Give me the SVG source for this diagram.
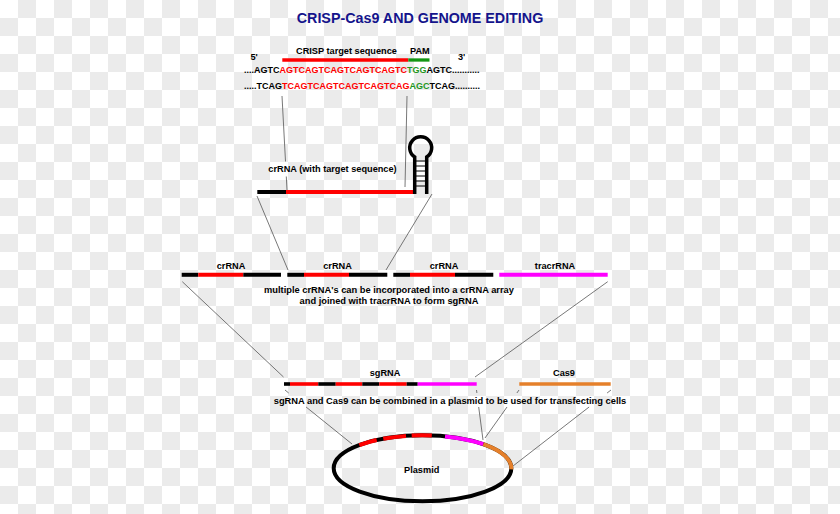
<svg xmlns="http://www.w3.org/2000/svg" width="840" height="514" viewBox="0 0 840 514">
<defs>
<pattern id="checker" width="36" height="36" patternUnits="userSpaceOnUse">
<rect x="0" y="0" width="36" height="36" fill="#ffffff"/>
<rect x="18" y="0" width="18" height="18" fill="#ebebeb"/>
<rect x="0" y="18" width="18" height="18" fill="#ebebeb"/>
</pattern>
<style>
text{font-family:"Liberation Sans",Arial,sans-serif;font-weight:bold;font-size:9.2px;fill:#000}
.seq{font-size:9px}
.cap{font-size:9.3px}
.title{font-size:14.3px;fill:#14148c}
.mid{text-anchor:middle}
.r{fill:#ff0000}
.g{fill:#1e961e}
.conn{stroke:#555;stroke-width:0.8;fill:none}
.bar{fill:none;stroke-linecap:butt}
.k{stroke:#000}
.red{stroke:#ff0000}
.mag{stroke:#ff00ff}
.org{stroke:#e5802b}
.grn{stroke:#149614}
</style>
</defs>
<rect width="840" height="514" fill="url(#checker)"/>

<g id="connectors">
<line class="conn" x1="282" y1="96" x2="285.5" y2="161.5"/>
<line class="conn" x1="286.3" y1="176.5" x2="287" y2="190"/>
<line class="conn" x1="407" y1="96" x2="405" y2="187"/>
<line class="conn" x1="257" y1="196" x2="288" y2="270"/>
<line class="conn" x1="432" y1="194" x2="386" y2="270"/>
<line class="conn" x1="182.3" y1="281.7" x2="283.5" y2="377"/>
<line class="conn" x1="607.7" y1="281.7" x2="475" y2="377"/>
<line class="conn" x1="285" y1="390" x2="288.7" y2="393"/>
<line class="conn" x1="306.1" y1="407" x2="352" y2="444"/>
<line class="conn" x1="476.5" y1="390" x2="476.9" y2="393"/>
<line class="conn" x1="478.7" y1="407" x2="483" y2="440"/>
<line class="conn" x1="519" y1="390" x2="516.9" y2="393"/>
<line class="conn" x1="507" y1="407" x2="485" y2="438"/>
<line class="conn" x1="611" y1="390" x2="607.1" y2="393"/>
<line class="conn" x1="589.1" y1="407" x2="513" y2="466"/>
</g>

<g id="title">
<text class="title mid" x="420" y="23">CRISP-Cas9 AND GENOME EDITING</text>
</g>

<g id="dna-sequence">
<text x="250.5" y="60">5'</text>
<text x="458" y="60">3'</text>
<text x="296" y="54">CRISP target sequence</text>
<text x="410" y="54">PAM</text>
<line class="bar red" x1="282.3" y1="60" x2="408.3" y2="60" stroke-width="3.3"/>
<line class="bar grn" x1="408.3" y1="60" x2="429.5" y2="60" stroke-width="3.3"/>
<text class="seq" x="244" y="72.5">....AGTC<tspan class="r">AGTCAGTCAGTCAGTCAGTC</tspan><tspan class="g">TGG</tspan>AGTC...........</text>
<text class="seq" x="244" y="88.5">.....TCAG<tspan class="r">TCAGTCAGTCAGTCAGTCAG</tspan><tspan class="g">AGC</tspan>TCAG..........</text>
</g>

<g id="crRNA-target">
<text class="mid" x="332.5" y="171.7">crRNA (with target sequence)</text>
<line class="bar k" x1="257.3" y1="192" x2="286" y2="192" stroke-width="4"/>
<line class="bar red" x1="286" y1="192" x2="413" y2="192" stroke-width="4"/>
<path d="M414.7,194 L414.7,157 A11 11 0 1 1 426.7,157 L426.7,194" fill="none" stroke="#000" stroke-width="3.5"/>
<g stroke="#000" stroke-width="1">
<line x1="414.7" y1="161" x2="426.7" y2="161"/>
<line x1="414.7" y1="166" x2="426.7" y2="166"/>
<line x1="414.7" y1="171" x2="426.7" y2="171"/>
<line x1="414.7" y1="176" x2="426.7" y2="176"/>
<line x1="414.7" y1="181" x2="426.7" y2="181"/>
<line x1="414.7" y1="186" x2="426.7" y2="186"/>
</g>
</g>

<g id="crRNA-1">
<text class="mid" x="231" y="269">crRNA</text>
<line class="bar k" x1="181.7" y1="274.8" x2="198.3" y2="274.8" stroke-width="4"/>
<line class="bar red" x1="198.3" y1="274.8" x2="243.3" y2="274.8" stroke-width="4"/>
<line class="bar k" x1="243.3" y1="274.8" x2="281" y2="274.8" stroke-width="4"/>
</g>
<g id="crRNA-2">
<text class="mid" x="337.5" y="269">crRNA</text>
<line class="bar k" x1="287.3" y1="274.8" x2="304" y2="274.8" stroke-width="4"/>
<line class="bar red" x1="304" y1="274.8" x2="349" y2="274.8" stroke-width="4"/>
<line class="bar k" x1="349" y1="274.8" x2="387.3" y2="274.8" stroke-width="4"/>
</g>
<g id="crRNA-3">
<text class="mid" x="444" y="269">crRNA</text>
<line class="bar k" x1="393.3" y1="274.8" x2="410" y2="274.8" stroke-width="4"/>
<line class="bar red" x1="410" y1="274.8" x2="455" y2="274.8" stroke-width="4"/>
<line class="bar k" x1="455" y1="274.8" x2="493.3" y2="274.8" stroke-width="4"/>
</g>
<g id="tracrRNA">
<text class="mid" x="555" y="269">tracrRNA</text>
<line class="bar mag" x1="499.3" y1="274.8" x2="607.7" y2="274.8" stroke-width="4"/>
</g>
<g id="array-caption">
<text class="mid cap" x="389" y="292.7">multiple crRNA's can be incorporated into a crRNA array</text>
<text class="mid cap" x="389" y="303.5">and joined with tracrRNA to form sgRNA</text>
</g>

<g id="sgRNA">
<text class="mid" x="385" y="375.7">sgRNA</text>
<line class="bar k" x1="284" y1="384" x2="290" y2="384" stroke-width="3.6"/>
<line class="bar red" x1="290" y1="384" x2="318.3" y2="384" stroke-width="3.6"/>
<line class="bar k" x1="318.3" y1="384" x2="335.7" y2="384" stroke-width="3.6"/>
<line class="bar red" x1="335.7" y1="384" x2="362.3" y2="384" stroke-width="3.6"/>
<line class="bar k" x1="362.3" y1="384" x2="379.3" y2="384" stroke-width="3.6"/>
<line class="bar red" x1="379.3" y1="384" x2="406.7" y2="384" stroke-width="3.6"/>
<line class="bar k" x1="406.7" y1="384" x2="417.7" y2="384" stroke-width="3.6"/>
<line class="bar mag" x1="417.7" y1="384" x2="476.7" y2="384" stroke-width="3.6"/>
</g>
<g id="Cas9">
<text class="mid" x="564" y="375.7">Cas9</text>
<line class="bar org" x1="519.3" y1="384" x2="610.7" y2="384" stroke-width="3.6"/>
</g>
<g id="plasmid-caption">
<text class="mid cap" x="450" y="404">sgRNA and Cas9 can be combined in a plasmid to be used for transfecting cells</text>
</g>

<g id="plasmid">
<ellipse cx="422.5" cy="468.3" rx="88.8" ry="33" fill="none" stroke="#000" stroke-width="4"/>
<path class="bar red" stroke-width="4" d="M359.3,445.1 A88.8 33 0 0 1 376.7,440.0"/>
<path class="bar red" stroke-width="4" d="M383.3,438.7 A88.8 33 0 0 1 406.0,435.9"/>
<path class="bar red" stroke-width="4" d="M411.7,435.5 A88.8 33 0 0 1 431.8,435.5"/>
<path class="bar mag" stroke-width="4" d="M445.0,436.4 A88.8 33 0 0 1 483.3,444.2"/>
<path class="bar org" stroke-width="4" d="M483.3,444.2 A88.8 33 0 0 1 511.3,469.3"/>
<text class="mid" x="421.7" y="472.7">Plasmid</text>
</g>
</svg>
